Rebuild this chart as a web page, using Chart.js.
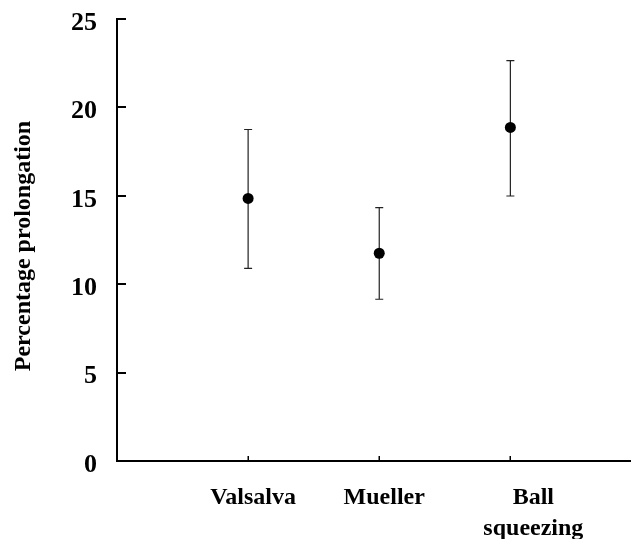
<!DOCTYPE html>
<html>
<head>
<meta charset="utf-8">
<script src="https://cdn.jsdelivr.net/npm/chart.js@4.4.1/dist/chart.umd.min.js"></script>
<style>
  html, body { margin: 0; padding: 0; background: #ffffff; }
  #wrap { width: 631px; height: 539px; position: relative; }
</style>
</head>
<body>
<div id="wrap"><canvas id="c" width="631" height="539"></canvas></div>
<script>
// ---- data ----
const categories = ['Valsalva', 'Mueller', 'Ball squeezing'];
const categoryLines = [['Valsalva'], ['Mueller'], ['      Ball', '      squeezing']];
const means = [14.85, 11.75, 18.87];
const upperErr = [18.75, 14.33, 22.64];
const lowerErr = [10.90, 9.15, 14.99];
const yTickValues = [0, 5, 10, 15, 20, 25];
const yTitle = 'Percentage prolongation  ';

const FONT = "'Liberation Serif', 'Times New Roman', Times, serif";

const errorBars = {
  id: 'errorBars',
  beforeDatasetsDraw(chart) {
    const ctx = chart.ctx, xs = chart.scales.x, ys = chart.scales.y;
    ctx.save();
    ctx.strokeStyle = '#222';
    ctx.lineWidth = 1.2;
    const cap = 4;
    for (let i = 0; i < means.length; i++) {
      const x = xs.getPixelForValue(i + 1);
      const yt = ys.getPixelForValue(upperErr[i]);
      const yb = ys.getPixelForValue(lowerErr[i]);
      ctx.beginPath();
      ctx.moveTo(x, yt); ctx.lineTo(x, yb);
      ctx.moveTo(x - cap, yt); ctx.lineTo(x + cap, yt);
      ctx.moveTo(x - cap, yb); ctx.lineTo(x + cap, yb);
      ctx.stroke();
    }
    ctx.restore();
  }
};

const innerTicks = {
  id: 'innerTicks',
  afterDraw(chart) {
    const ctx = chart.ctx, xs = chart.scales.x, ys = chart.scales.y;
    const area = chart.chartArea;
    ctx.save();
    ctx.strokeStyle = '#000';
    ctx.lineWidth = 2;
    ctx.beginPath();
    yTickValues.forEach(v => {
      const y = Math.round(ys.getPixelForValue(v));
      ctx.moveTo(area.left, y); ctx.lineTo(area.left + 9, y);
    });
    ctx.stroke();
    ctx.lineWidth = 1.5;
    ctx.beginPath();
    for (let i = 0; i < categories.length; i++) {
      const x = Math.round(xs.getPixelForValue(i + 1)) + 0.25;
      ctx.moveTo(x, area.bottom); ctx.lineTo(x, area.bottom - 5);
    }
    ctx.stroke();
    ctx.restore();
  }
};

new Chart(document.getElementById('c'), {
  type: 'scatter',
  data: {
    datasets: [{
      label: 'Mean',
      data: means.map((m, i) => ({ x: i + 1, y: m })),
      pointRadius: 5.5,
      pointHoverRadius: 5.5,
      pointBackgroundColor: '#000',
      pointBorderColor: '#000',
      pointBorderWidth: 0,
      showLine: false
    }]
  },
  options: {
    responsive: false,
    animation: false,
    events: [],
    layout: { autoPadding: false, padding: { top: 19, right: 0, left: 0, bottom: 0 } },
    plugins: { legend: { display: false }, tooltip: { enabled: false } },
    scales: {
      x: {
        type: 'linear',
        min: 0,
        max: 3.92,
        afterBuildTicks(scale) { scale.ticks = categories.map((c, i) => ({ value: i + 1 })); },
        afterFit(scale) { scale.height = 78; scale.paddingRight = 0; scale.paddingLeft = 0; },
        grid: { display: false, drawTicks: false },
        border: { display: true, color: '#000', width: 2 },
        ticks: {
          autoSkip: false,
          maxRotation: 0,
          padding: 22,
          labelOffset: 5,
          color: '#000',
          font: { family: FONT, size: 24, weight: 'bold', lineHeight: 1.27 },
          callback: (v) => categoryLines[v - 1] || ''
        }
      },
      y: {
        min: 0,
        max: 25,
        afterBuildTicks(scale) { scale.ticks = yTickValues.map(v => ({ value: v })); },
        afterFit(scale) { scale.width = 117; scale.paddingTop = 0; scale.paddingBottom = 0; },
        grid: { display: false, drawTicks: false },
        border: { display: true, color: '#000', width: 2 },
        ticks: {
          padding: 20,
          labelOffset: 4,
          color: '#000',
          font: { family: FONT, size: 26, weight: 'bold' }
        },
        title: {
          display: true,
          text: yTitle,
          color: '#000',
          padding: { top: 9, bottom: 0 },
          font: { family: FONT, size: 24, weight: 'bold' }
        }
      }
    }
  },
  plugins: [errorBars, innerTicks]
});
</script>
</body>
</html>
